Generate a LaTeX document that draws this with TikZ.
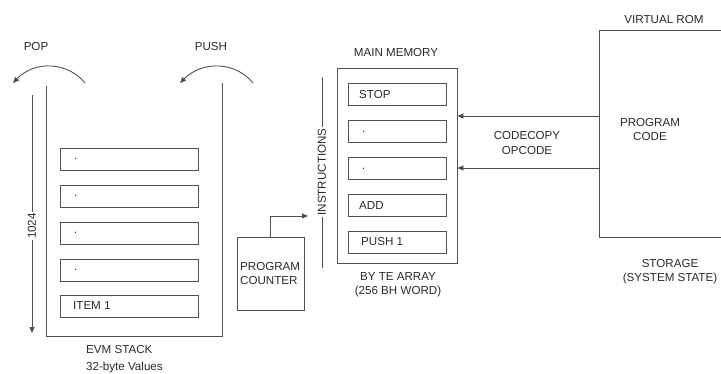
\documentclass[tikz,border=0pt]{standalone}
\usepackage{fontspec}
\setmainfont{Liberation Sans}
\usetikzlibrary{arrows.meta}
\definecolor{lc}{HTML}{505050}
\definecolor{txt}{HTML}{2A2A2A}
\begin{document}
\begin{tikzpicture}[x=1pt,y=-1pt,
  every node/.style={font=\fontsize{11.6}{14.5}\selectfont, text=txt},
  ln/.style={draw=lc, line width=0.9pt},
  cell/.style={ln, minimum width=138pt, minimum height=22pt, inner sep=0pt},
  mcell/.style={ln, minimum width=98pt, minimum height=22pt, inner sep=0pt},
  arr/.style={ln, -{Triangle[length=6pt,width=5pt]}},
  lab/.style={align=center, inner sep=1pt},
  celltext/.style={anchor=west, inner sep=0pt},
]
\useasboundingbox (0,0) rectangle (721,373);

% ---- EVM stack ----
\coordinate (stl) at (46,86);
\coordinate (sbl) at (46,336);
\coordinate (sbr) at (222,336);
\coordinate (str) at (222,83);
\draw[ln] (stl) -- (sbl) -- (sbr) -- (str);

\node[cell] (s1) at (129,159) {};
\node[cell] (s2) at (129,196) {};
\node[cell] (s3) at (129,233) {};
\node[cell] (s4) at (129,270) {};
\node[cell] (s5) at (129,306) {};
\node[celltext] (s1t) at (74,159) {.};
\node[celltext] (s2t) at (74,196) {.};
\node[celltext] (s3t) at (74,233) {.};
\node[celltext] (s4t) at (74,270) {.};
\node[celltext] (s5t) at (73,306) {ITEM 1};

% 1024 arrow
\coordinate (ka) at (32,95);
\coordinate (kb) at (32,333);
\draw[arr] (ka) -- (kb);
\node[fill=white, rotate=90, inner sep=1pt] (k) at (32,226) {1024};

% POP / PUSH
\coordinate (popa) at (85,83);
\coordinate (popb) at (13,83);
\draw[arr] (popa) .. controls (68,62) and (35,60) .. (popb);
\node[lab] (pop) at (36,47) {POP};
\coordinate (pusha) at (253,83);
\coordinate (pushb) at (180,83);
\draw[arr] (pusha) .. controls (236,62) and (203,60) .. (pushb);
\node[lab] (push) at (211,47) {PUSH};

\node[anchor=west, inner sep=0pt] (evm) at (86,350) {EVM STACK};
\node[anchor=west, inner sep=0pt] (val) at (86,367) {32-byte Values};

% ---- Program counter ----
\node[ln, minimum width=67pt, minimum height=73pt, inner sep=0pt] (pc) at (270.5,273.5) {};
\node[anchor=west, inner sep=0pt, align=left] (pct) at (240,273.5) {PROGRAM\\COUNTER};
\coordinate (pcend) at (308,216);
\draw[arr] (pc.north) |- (pcend);

% instructions
\coordinate (ia) at (322,77);
\coordinate (ib) at (322,268);
\draw[ln] (ia) -- (ib);
\node[fill=white, rotate=90, inner sep=1.5pt] (instr) at (322,172) {INSTRUCTIONS};

% ---- Main memory ----
\node[ln, minimum width=120pt, minimum height=195pt, inner sep=0pt] (mem) at (397,165.5) {};
\node[mcell] (m1) at (397,94.5) {};
\node[mcell] (m2) at (397,131.5) {};
\node[mcell] (m3) at (397,168.5) {};
\node[mcell] (m4) at (397,205.5) {};
\node[mcell] (m5) at (397,242) {};
\node[celltext] (m1t) at (359,94.5) {STOP};
\node[celltext] (m2t) at (362,131.5) {.};
\node[celltext] (m3t) at (362,168.5) {.};
\node[celltext] (m4t) at (359,205.5) {ADD};
\node[celltext] (m5t) at (361,242) {PUSH 1};
\node[lab] (memt) at (396,53) {MAIN MEMORY};
\node[lab] (arr1) at (398,284.5) {BY TE ARRAY\\(256 BH WORD)};

% ---- Virtual ROM ----
\coordinate (rtr) at (722,30);
\coordinate (rtl) at (599,30);
\coordinate (rbl) at (599,237);
\coordinate (rbr) at (722,237);
\draw[ln] (rtr) -- (rtl) -- (rbl) -- (rbr);
\node[lab] (vrom) at (664,20) {VIRTUAL ROM};
\node[lab] (pcode) at (650,129.5) {PROGRAM\\CODE};
\node[lab] (stor) at (670,271.5) {STORAGE\\(SYSTEM STATE)};

\coordinate (c1) at (599,116);
\coordinate (c2) at (599,168);
\draw[arr] (c1) -- (c1 -| mem.east);
\draw[arr] (c2) -- (c2 -| mem.east);
\node[lab] (cc) at (527,143) {CODECOPY\\OPCODE};
\end{tikzpicture}
\end{document}
